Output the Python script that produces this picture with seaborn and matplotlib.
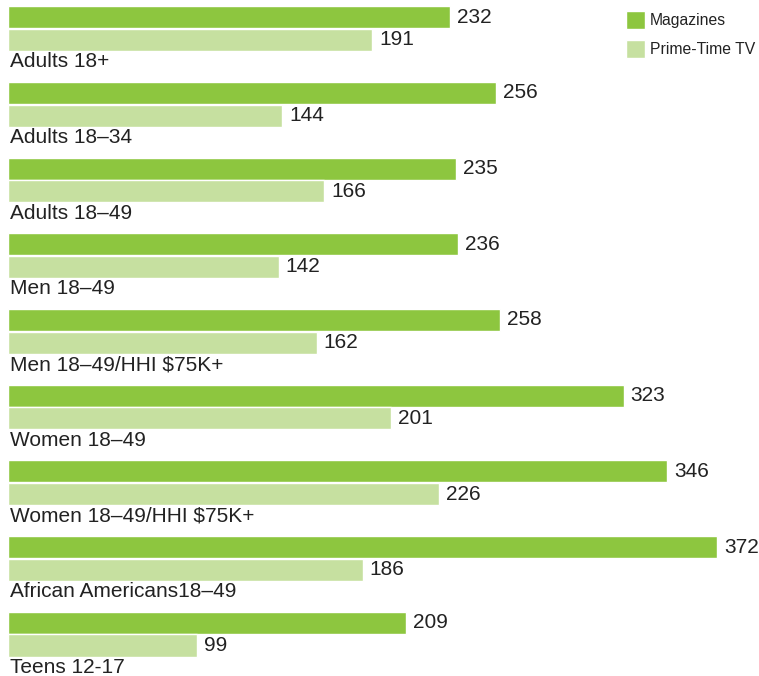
import matplotlib
matplotlib.use("Agg")
import matplotlib.pyplot as plt
import seaborn as sns
import pandas as pd
from matplotlib.patches import Patch

categories = ["Adults 18+", "Adults 18\u201334", "Adults 18\u201349", "Men 18\u201349",
              "Men 18\u201349/HHI $75K+", "Women 18\u201349", "Women 18\u201349/HHI $75K+",
              "African Americans18\u201349", "Teens 12-17"]
magazines = [232, 256, 235, 236, 258, 323, 346, 372, 209]
prime_tv = [191, 144, 166, 142, 162, 201, 226, 186, 99]
series = ["Magazines", "Prime-Time TV"]
colors = ["#8DC63F", "#C6E0A0"]

df = pd.DataFrame({
    "category": categories * 2,
    "value": magazines + prime_tv,
    "series": [series[0]] * len(categories) + [series[1]] * len(categories),
})

sns.set_theme(style="white")
plt.rcParams["font.family"] = ["Liberation Sans", "DejaVu Sans"]

fig = plt.figure(figsize=(7.59, 6.76), dpi=100)
ax = fig.add_axes([0, 0, 1, 1])
sns.barplot(data=df, x="value", y="category", hue="series", order=categories,
            hue_order=series, palette=colors, orient="h", width=0.6,
            gap=0.03, legend=False, ax=ax, saturation=1, errorbar=None)

for cont in ax.containers:
    ax.bar_label(cont, padding=5, fontsize=15, color="#222222")

for i, c in enumerate(categories):
    ax.text(1.0, i + 0.44, c, fontsize=15, color="#222222", va="center", ha="left")

ax.set_xlim(-8 / 1.906, (759 - 8) / 1.906)
ax.set_ylim(8.553, -0.376)
ax.axis("off")

handles = [Patch(facecolor=colors[0]), Patch(facecolor=colors[1])]
ax.legend(handles, series, loc="upper left", bbox_to_anchor=(0.814, 0.996),
          frameon=False, fontsize=11.3, handlelength=1.22, handleheight=1.4,
          handletextpad=0.3, labelspacing=0.7, borderaxespad=0.1,
          labelcolor="#222222")

fig.savefig("out.png", dpi=100)
